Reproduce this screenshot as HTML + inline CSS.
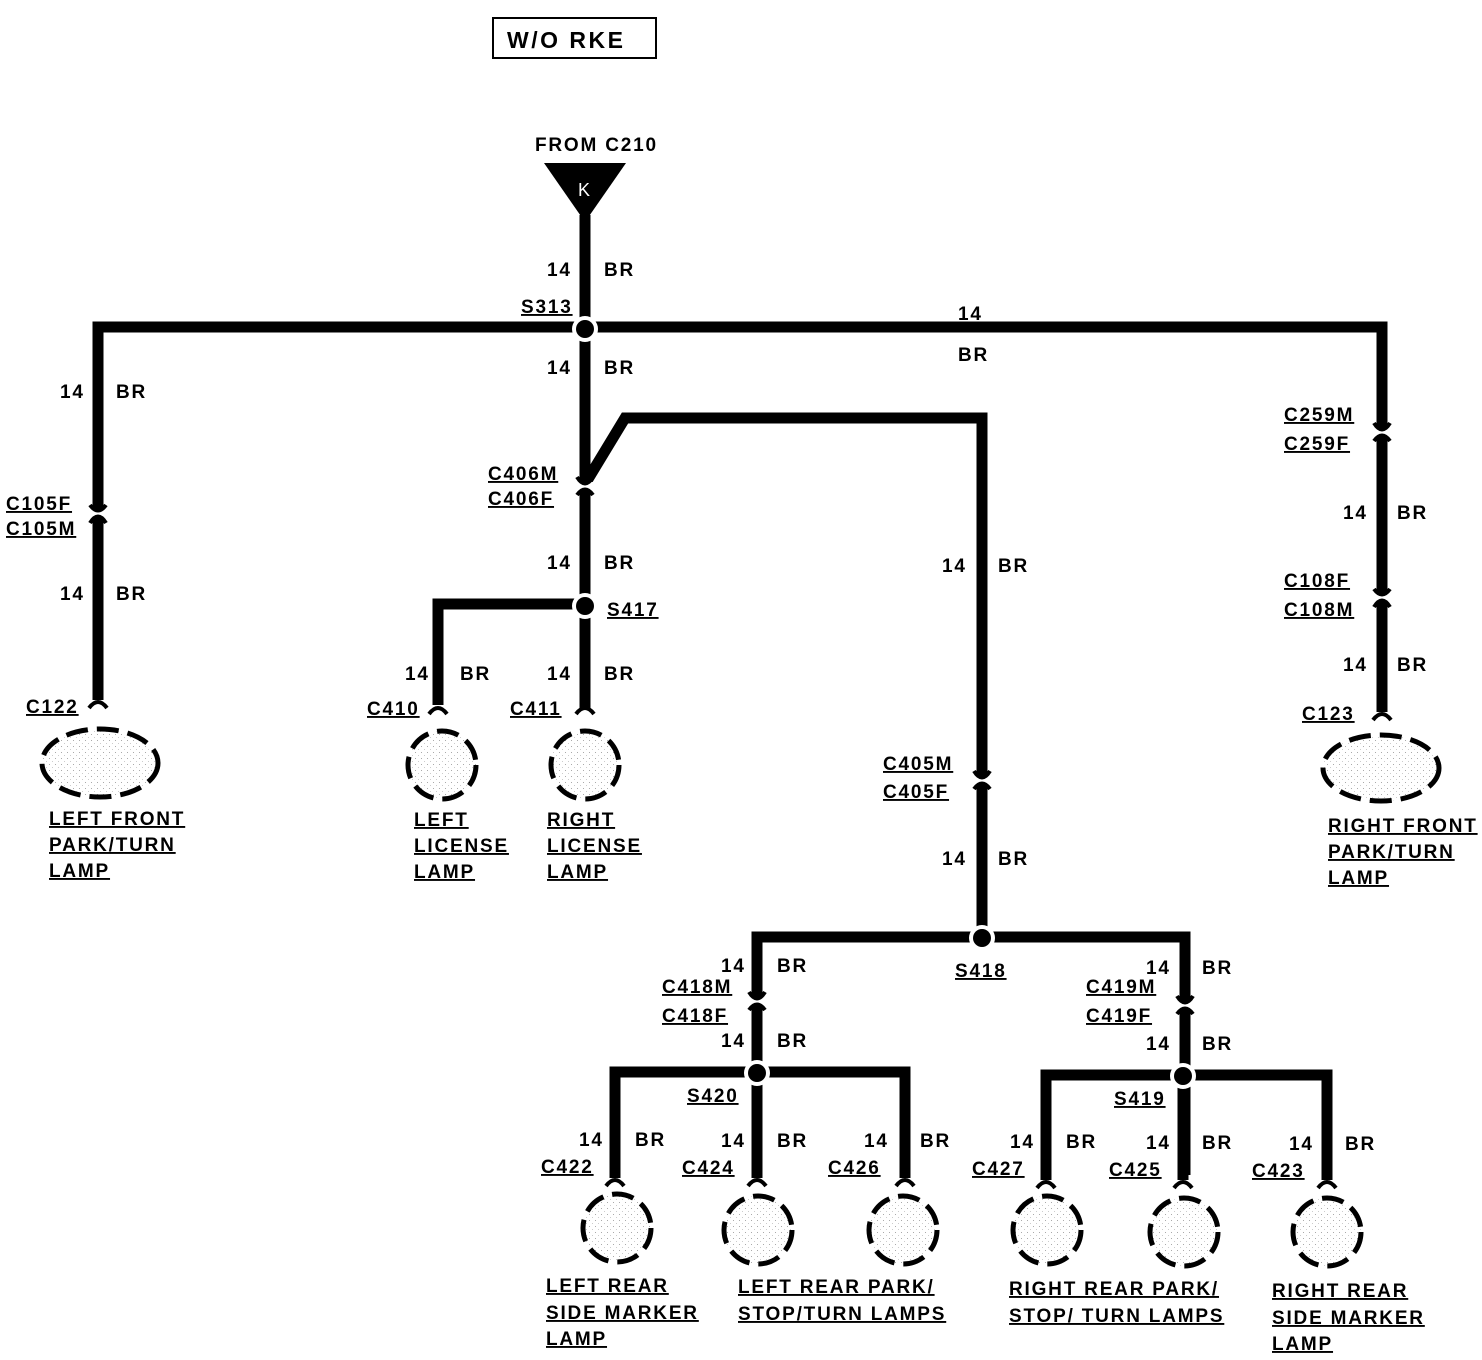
<!DOCTYPE html>
<html><head><meta charset="utf-8"><style>
html,body{margin:0;padding:0;background:#fff}
svg{display:block}
text{font-family:"Liberation Sans",sans-serif;font-weight:bold;font-size:19px;letter-spacing:1.8px;fill:#000}
.u{text-decoration:underline}
</style></head><body>
<svg width="1482" height="1360" viewBox="0 0 1482 1360" xmlns="http://www.w3.org/2000/svg">
<defs>
<pattern id="dots" width="6" height="6" patternUnits="userSpaceOnUse"><rect width="6" height="6" fill="#fff"/><rect x="1" y="2" width="1" height="1" fill="#aaa"/><rect x="4" y="5" width="1" height="1" fill="#ccc"/></pattern>
<g id="cd"><rect x="-8" y="-4" width="16" height="8" fill="#fff"/><path d="M-8,-9 Q0,4 8,-9" fill="none" stroke="#000" stroke-width="4"/><path d="M-8,9 Q0,-2 8,9" fill="none" stroke="#000" stroke-width="4"/></g>
<g id="cu"><rect x="-8" y="-4" width="16" height="8" fill="#fff"/><path d="M-8,-9 Q0,2 8,-9" fill="none" stroke="#000" stroke-width="4"/><path d="M-8,9 Q0,-4 8,9" fill="none" stroke="#000" stroke-width="4"/></g>
<g id="end"><path d="M-9,4 Q0,-8 9,4" fill="none" stroke="#000" stroke-width="4"/></g>
<g id="sp"><circle r="13" fill="#fff"/><circle r="9" fill="#000"/></g>
</defs>
<rect x="493" y="18" width="163" height="40" fill="none" stroke="#000" stroke-width="2"/>
<text x="507" y="48" style="font-size:23px;letter-spacing:2.5px">W/O RKE</text>
<text x="535" y="151">FROM C210</text>
<polygon points="544,163 626,163 585,222" fill="#000"/>
<text x="578" y="196" style="fill:#fff;font-weight:normal;font-size:18px;letter-spacing:0">K</text>
<g stroke="#000" stroke-width="11" fill="none" stroke-linejoin="miter">
<path d="M585,215 V710"/>
<path d="M98,700 V327 H1382 V712"/>
<path d="M585,484 L625,418 H982 V935"/>
<path d="M438,705 V604 H585"/>
<path d="M757,1175 V937 H1185 V1175"/>
<path d="M615,1178 V1072 H905 V1178"/>
<path d="M757,1072 V1178"/>
<path d="M1046,1180 V1075 H1327 V1180"/>
<path d="M1183,1075 V1180"/>
</g>
<use href="#sp" x="585" y="329"/><use href="#sp" x="585" y="606"/><use href="#sp" x="982" y="938"/>
<use href="#sp" x="757" y="1073"/><use href="#sp" x="1183" y="1076"/>
<use href="#cd" x="585" y="486"/><use href="#cu" x="98" y="514"/><use href="#cd" x="1382" y="432"/><use href="#cu" x="1382" y="598"/>
<use href="#cd" x="982" y="780"/><use href="#cd" x="757" y="1001"/><use href="#cd" x="1185" y="1005"/>
<use href="#end" x="98" y="704"/><use href="#end" x="438" y="710"/><use href="#end" x="585" y="710"/><use href="#end" x="1382" y="716"/>
<use href="#end" x="615" y="1182"/><use href="#end" x="757" y="1182"/><use href="#end" x="905" y="1182"/><use href="#end" x="1046" y="1184"/><use href="#end" x="1183" y="1184"/><use href="#end" x="1327" y="1184"/>
<g fill="url(#dots)" stroke="#000" stroke-width="5" stroke-dasharray="22,9">
<ellipse cx="100" cy="763" rx="58" ry="34"/>
<circle cx="442" cy="765" r="34"/><circle cx="585" cy="765" r="34"/>
<ellipse cx="1381" cy="768" rx="58" ry="33"/>
<circle cx="617" cy="1228" r="34"/><circle cx="758" cy="1230" r="34"/><circle cx="903" cy="1230" r="34"/>
<circle cx="1047" cy="1230" r="34"/><circle cx="1184" cy="1232" r="34"/><circle cx="1327" cy="1232" r="34"/>
</g>
<text x="547" y="276">14</text><text x="604" y="276">BR</text>
<text x="547" y="374">14</text><text x="604" y="374">BR</text>
<text x="547" y="569">14</text><text x="604" y="569">BR</text>
<text x="547" y="680">14</text><text x="604" y="680">BR</text>
<text x="405" y="680">14</text><text x="460" y="680">BR</text>
<text x="60" y="398">14</text><text x="116" y="398">BR</text>
<text x="60" y="600">14</text><text x="116" y="600">BR</text>
<text x="958" y="320">14</text><text x="958" y="361">BR</text>
<text x="1343" y="519">14</text><text x="1397" y="519">BR</text>
<text x="1343" y="671">14</text><text x="1397" y="671">BR</text>
<text x="942" y="572">14</text><text x="998" y="572">BR</text>
<text x="942" y="865">14</text><text x="998" y="865">BR</text>
<text x="721" y="972">14</text><text x="777" y="972">BR</text>
<text x="721" y="1047">14</text><text x="777" y="1047">BR</text>
<text x="1146" y="974">14</text><text x="1202" y="974">BR</text>
<text x="1146" y="1050">14</text><text x="1202" y="1050">BR</text>
<text x="579" y="1146">14</text><text x="635" y="1146">BR</text>
<text x="721" y="1147">14</text><text x="777" y="1147">BR</text>
<text x="864" y="1147">14</text><text x="920" y="1147">BR</text>
<text x="1010" y="1148">14</text><text x="1066" y="1148">BR</text>
<text x="1146" y="1149">14</text><text x="1202" y="1149">BR</text>
<text x="1289" y="1150">14</text><text x="1345" y="1150">BR</text>
<g>
<text class="u" x="521" y="313">S313</text>
<text class="u" x="607" y="616">S417</text>
<text class="u" x="955" y="977">S418</text>
<text class="u" x="687" y="1102">S420</text>
<text class="u" x="1114" y="1105">S419</text>
<text class="u" x="488" y="480">C406M</text><text class="u" x="488" y="505">C406F</text>
<text class="u" x="6" y="510">C105F</text><text class="u" x="6" y="535">C105M</text>
<text class="u" x="1284" y="421">C259M</text><text class="u" x="1284" y="450">C259F</text>
<text class="u" x="1284" y="587">C108F</text><text class="u" x="1284" y="616">C108M</text>
<text class="u" x="883" y="770">C405M</text><text class="u" x="883" y="798">C405F</text>
<text class="u" x="662" y="993">C418M</text><text class="u" x="662" y="1022">C418F</text>
<text class="u" x="1086" y="993">C419M</text><text class="u" x="1086" y="1022">C419F</text>
<text class="u" x="26" y="713">C122</text>
<text class="u" x="367" y="715">C410</text>
<text class="u" x="510" y="715">C411</text>
<text class="u" x="1302" y="720">C123</text>
<text class="u" x="541" y="1173">C422</text>
<text class="u" x="682" y="1174">C424</text>
<text class="u" x="828" y="1174">C426</text>
<text class="u" x="972" y="1175">C427</text>
<text class="u" x="1109" y="1176">C425</text>
<text class="u" x="1252" y="1177">C423</text>
<text class="u" x="49" y="825">LEFT FRONT</text><text class="u" x="49" y="851">PARK/TURN</text><text class="u" x="49" y="877">LAMP</text>
<text class="u" x="414" y="826">LEFT</text><text class="u" x="414" y="852">LICENSE</text><text class="u" x="414" y="878">LAMP</text>
<text class="u" x="547" y="826">RIGHT</text><text class="u" x="547" y="852">LICENSE</text><text class="u" x="547" y="878">LAMP</text>
<text class="u" x="1328" y="832">RIGHT FRONT</text><text class="u" x="1328" y="858">PARK/TURN</text><text class="u" x="1328" y="884">LAMP</text>
<text class="u" x="546" y="1292">LEFT REAR</text><text class="u" x="546" y="1319">SIDE MARKER</text><text class="u" x="546" y="1345">LAMP</text>
<text class="u" x="738" y="1293">LEFT REAR PARK/</text><text class="u" x="738" y="1320">STOP/TURN LAMPS</text>
<text class="u" x="1009" y="1295">RIGHT REAR PARK/</text><text class="u" x="1009" y="1322">STOP/ TURN LAMPS</text>
<text class="u" x="1272" y="1297">RIGHT REAR</text><text class="u" x="1272" y="1324">SIDE MARKER</text><text class="u" x="1272" y="1350">LAMP</text>
</g>
</svg>
</body></html>
